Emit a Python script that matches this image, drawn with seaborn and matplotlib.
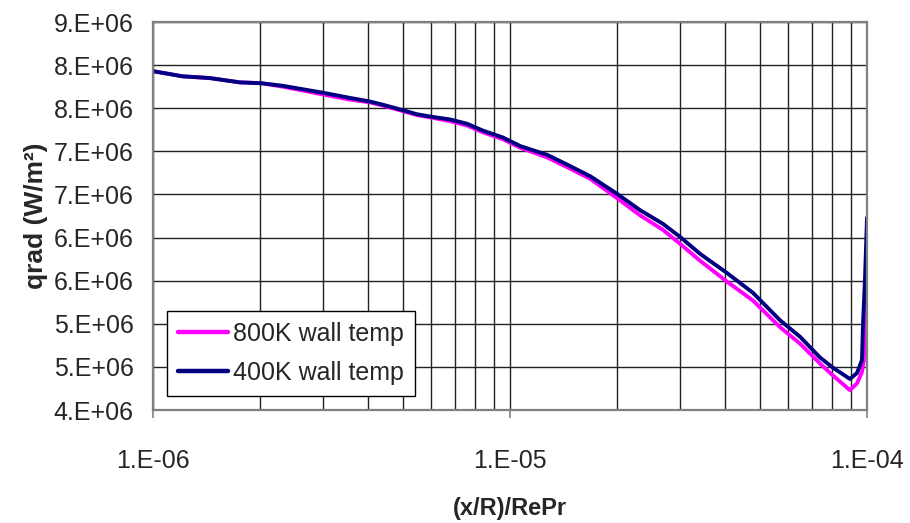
import numpy as np
import pandas as pd
import matplotlib
matplotlib.use("Agg")
import matplotlib.pyplot as plt
import matplotlib.ticker as mticker
import seaborn as sns

# ---- data ----
x_400 = [1.0e-6, 1.21e-6, 1.44e-6, 1.75e-6, 2.01e-6, 2.31e-6, 2.99e-6, 3.56e-6,
         4.03e-6, 4.41e-6, 4.98e-6, 5.49e-6, 6.05e-6, 6.79e-6, 7.58e-6, 8.40e-6,
         9.56e-6, 1.07e-5, 1.27e-5, 1.44e-5, 1.68e-5, 1.99e-5, 2.31e-5, 2.68e-5,
         2.99e-5, 3.41e-5, 4.05e-5, 4.79e-5, 5.71e-5, 6.49e-5, 7.38e-5, 8.03e-5,
         8.96e-5, 9.38e-5, 9.68e-5, 9.75e-5, 9.87e-5, 1.0e-4]
q_400 = [7.93, 7.87, 7.85, 7.80, 7.79, 7.76, 7.68, 7.62,
         7.58, 7.54, 7.48, 7.43, 7.40, 7.37, 7.32, 7.24,
         7.16, 7.06, 6.96, 6.85, 6.71, 6.51, 6.32, 6.16,
         6.01, 5.81, 5.59, 5.36, 5.04, 4.85, 4.61, 4.49,
         4.36, 4.43, 4.58, 5.01, 5.51, 6.23]

x_800 = [1.0e-6, 1.21e-6, 1.44e-6, 1.75e-6, 2.01e-6, 2.31e-6, 2.99e-6, 3.56e-6,
         4.03e-6, 4.41e-6, 4.98e-6, 5.49e-6, 6.05e-6, 6.79e-6, 7.58e-6, 8.40e-6,
         9.56e-6, 1.07e-5, 1.27e-5, 1.44e-5, 1.68e-5, 1.99e-5, 2.31e-5, 2.68e-5,
         2.99e-5, 3.41e-5, 4.05e-5, 4.79e-5, 5.71e-5, 6.49e-5, 7.38e-5, 8.03e-5,
         8.96e-5, 9.38e-5, 9.68e-5, 9.80e-5, 9.93e-5, 1.0e-4]
q_800 = [7.93, 7.87, 7.85, 7.80, 7.79, 7.75, 7.66, 7.60,
         7.57, 7.53, 7.47, 7.42, 7.39, 7.35, 7.30, 7.22,
         7.14, 7.04, 6.93, 6.82, 6.68, 6.46, 6.26, 6.09,
         5.93, 5.73, 5.49, 5.27, 4.96, 4.77, 4.54, 4.40,
         4.23, 4.31, 4.44, 4.58, 5.04, 5.78]

series_names = ["800K wall temp", "400K wall temp"]
series_colors = ["#FF00FF", "#000080"]

y_ticks = [4.0e6, 4.5e6, 5.0e6, 5.5e6, 6.0e6, 6.5e6, 7.0e6, 7.5e6, 8.0e6, 8.5e6]
y_tick_labels = ["4.E+06", "5.E+06", "5.E+06", "6.E+06", "6.E+06",
                 "7.E+06", "7.E+06", "8.E+06", "8.E+06", "9.E+06"]
x_ticks = [1e-6, 1e-5, 1e-4]
x_tick_labels = ["1.E-06", "1.E-05", "1.E-04"]

df = pd.concat([
    pd.DataFrame({"x": x_800, "q": np.array(q_800) * 1e6, "series": series_names[0]}),
    pd.DataFrame({"x": x_400, "q": np.array(q_400) * 1e6, "series": series_names[1]}),
], ignore_index=True)

sns.set_theme(style="white")
plt.rcParams["font.family"] = ["Liberation Sans", "DejaVu Sans"]

fig = plt.figure(figsize=(9.10, 5.23), dpi=100)
ax = fig.add_axes([153 / 910, 113 / 523, 714 / 910, 388 / 523])

sns.lineplot(data=df, x="x", y="q", hue="series", hue_order=series_names,
             palette=dict(zip(series_names, series_colors)), sort=False,
             estimator=None, linewidth=2.8, ax=ax)

ax.set_xscale("log")
ax.set_xlim(1e-6, 1e-4)
ax.set_ylim(4.0e6, 8.5e6)
ax.set_xticks(x_ticks)
ax.set_xticklabels(x_tick_labels)
ax.xaxis.set_minor_locator(mticker.LogLocator(base=10, subs=np.arange(2, 10)))
ax.xaxis.set_minor_formatter(mticker.NullFormatter())
ax.set_yticks(y_ticks)
ax.set_yticklabels(y_tick_labels)

ax.grid(True, which="major", axis="both", color="#222222", linewidth=1.0)
ax.grid(True, which="minor", axis="x", color="#222222", linewidth=1.0)
ax.set_axisbelow(True)

for s in ax.spines.values():
    s.set_color("#808080")
    s.set_linewidth(1.6)
    s.set_visible(True)

ax.tick_params(axis="x", which="major", direction="out", length=6, width=1.2,
               color="#808080", labelsize=18, pad=22, bottom=True)
ax.tick_params(axis="x", which="minor", length=0)
ax.tick_params(axis="y", which="major", length=0, labelsize=18, pad=14, left=True)

ax.set_xlabel("(x/R)/RePr", fontsize=17, fontweight="bold", labelpad=17)
ax.set_ylabel("qrad (W/m²)", fontsize=19, fontweight="bold", labelpad=4)

leg = ax.legend(loc="lower left", bbox_to_anchor=(0.0196, 0.036), borderaxespad=0,
                fontsize=18, frameon=True, fancybox=False, edgecolor="black",
                framealpha=1, handlelength=2.0, handletextpad=0.2,
                labelspacing=0.6, borderpad=0.45, title=None)
leg.get_frame().set_linewidth(1.0)
for line in leg.get_lines():
    line.set_linewidth(3.2)

fig.savefig("out.png", dpi=100, facecolor="white")
